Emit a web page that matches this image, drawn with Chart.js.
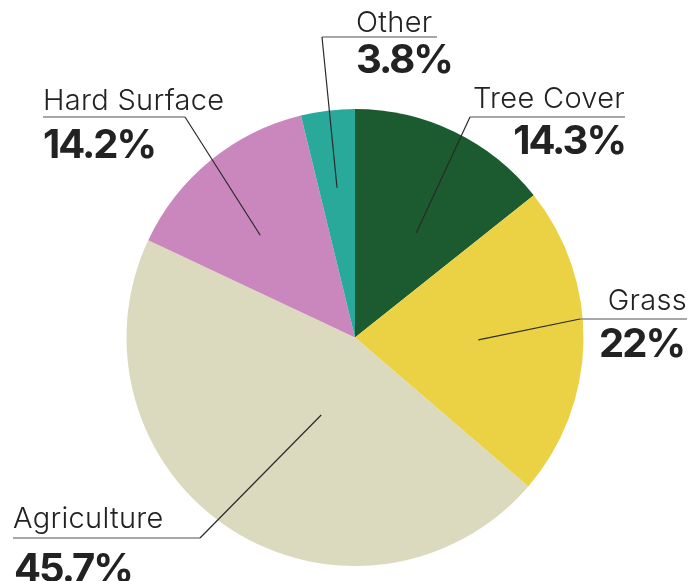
<!DOCTYPE html>
<html>
<head>
<meta charset="utf-8">
<script src="https://cdn.jsdelivr.net/npm/chart.js@4/dist/chart.umd.min.js"></script>
<style>
html,body{margin:0;padding:0;background:#fff;}
#wrap{width:691px;height:581px;position:relative;}
</style>
</head>
<body>
<div id="wrap"><canvas id="c" width="691" height="581"></canvas></div>
<script>
const categories = ["Tree Cover", "Grass", "Agriculture", "Hard Surface", "Other"];
const shares = [14.3, 22, 45.7, 14.2, 3.8];
const valueLabels = ["14.3%", "22%", "45.7%", "14.2%", "3.8%"];
const colors = ["#1c5a2f", "#ebd244", "#dbdabe", "#c987bd", "#28a99a"];

// label layout (positions in px, anchor as fraction of slice angle & radius)
const labelLayout = [
  {align:"right", x:625, nameY:108, valY:154, line:[470,625,117], join:470, angFrac:0.59, rFrac:0.53},
  {align:"right", x:687, valX:684, nameY:310, valY:357, line:[580,687,319], join:580, angFrac:0.50, rFrac:0.54},
  {align:"left",  x:13, valX:14, nameY:528, valY:582, line:[13,200,538], join:200, angFrac:0.443, rFrac:0.37},
  {align:"left",  x:43, nameY:110, valY:158, line:[43,185,117], join:185, angFrac:0.43, rFrac:0.61},
  {align:"left",  x:356, nameY:32, valY:73, line:[322,437,37], join:322, angFrac:0.50, rFrac:0.66}
];

const labelPlugin = {
  id: "leaderLabels",
  afterDatasetsDraw(chart) {
    const ctx = chart.ctx;
    const meta = chart.getDatasetMeta(0);
    meta.data.forEach((arc, i) => {
      const L = labelLayout[i];
      const p = arc.getProps(["x","y","startAngle","endAngle","outerRadius"], true);
      const a = p.startAngle + (p.endAngle - p.startAngle) * L.angFrac;
      const ax = p.x + Math.cos(a) * p.outerRadius * L.rFrac;
      const ay = p.y + Math.sin(a) * p.outerRadius * L.rFrac;
      const [x1, x2, ly] = L.line;
      ctx.save();
      ctx.strokeStyle = "#8a8a8a";
      ctx.lineWidth = 1.5;
      ctx.beginPath(); ctx.moveTo(x1, ly); ctx.lineTo(x2, ly); ctx.stroke();
      ctx.strokeStyle = "#2a2a2a";
      ctx.lineWidth = 1.2;
      ctx.beginPath(); ctx.moveTo(L.join, ly); ctx.lineTo(ax, ay); ctx.stroke();
      ctx.fillStyle = "#222";
      ctx.textAlign = L.align;
      ctx.textBaseline = "alphabetic";
      ctx.font = "300 29px Inter, 'Noto Sans', sans-serif";
      ctx.letterSpacing = "0.3px";
      ctx.fillText(categories[i], L.x, L.nameY);
      ctx.font = "700 40px Inter, 'Noto Sans', sans-serif";
      ctx.letterSpacing = "-2px";
      ctx.fillText(valueLabels[i], L.valX !== undefined ? L.valX : L.x, L.valY);
      ctx.restore();
    });
  }
};

new Chart(document.getElementById("c"), {
  type: "pie",
  data: {
    labels: categories,
    datasets: [{ data: shares, backgroundColor: colors, borderWidth: 0 }]
  },
  options: {
    responsive: false,
    animation: false,
    layout: { padding: { top: 109, bottom: 15, left: 126, right: 107 } },
    plugins: { legend: { display: false }, tooltip: { enabled: false } }
  },
  plugins: [labelPlugin]
});
</script>
</body>
</html>
